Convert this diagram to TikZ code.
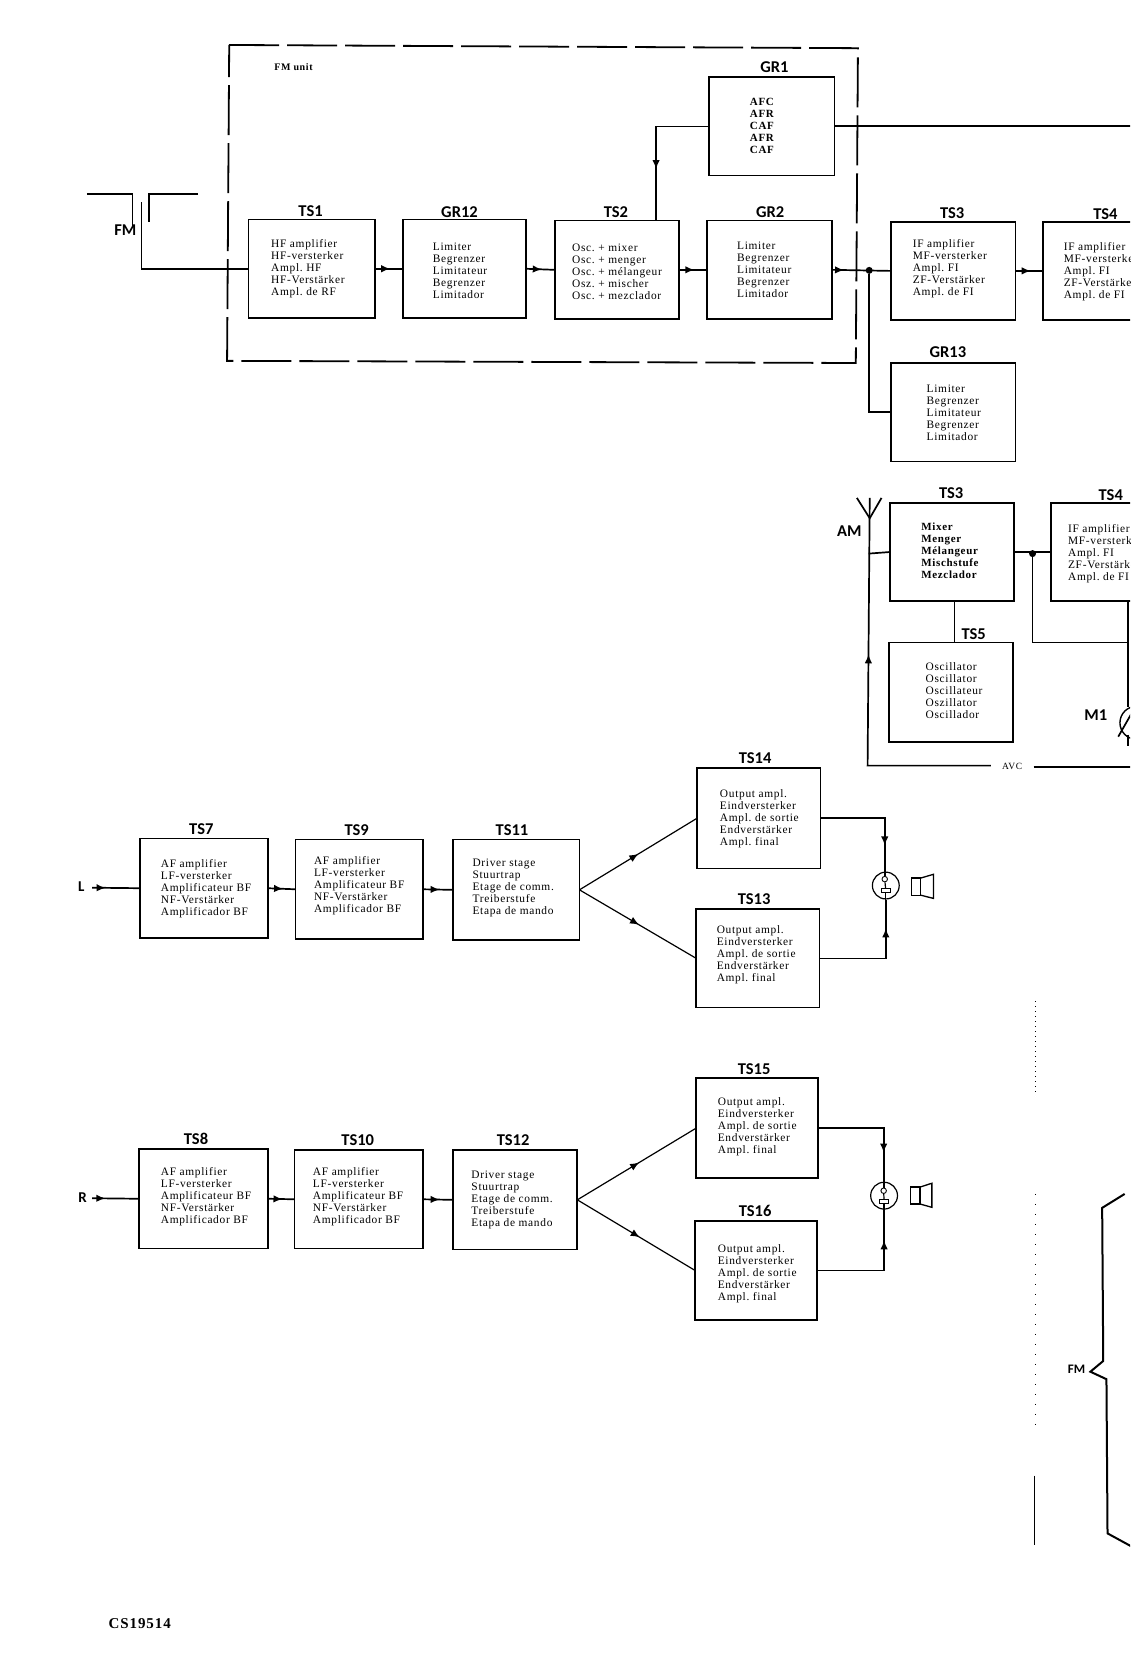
\documentclass[tikz,border=0pt]{standalone}
\usepackage{fontspec}
\usetikzlibrary{arrows.meta,decorations.markings}
\setmainfont{Liberation Serif}
\newfontfamily\bodyfam[LetterSpace=6]{Liberation Serif}
\newfontfamily\labfam{Carlito}
\tikzset{
  x=1.0711pt,y=-1.0708pt,
  wire/.style={line width=1.7pt},
  thin wire/.style={line width=1.2pt},
  unitbox/.style={draw,line width=1.7pt,fill=none,inner sep=0pt,outer sep=0pt},
  bodytext/.style={font=\bodyfam\fontsize{11.4}{12}\selectfont,align=left,anchor=west,inner sep=0pt,yshift=-1pt},
  boldtext/.style={font=\bodyfam\bfseries\fontsize{11}{12}\selectfont,align=left,anchor=west,inner sep=0pt,yshift=-1pt},
  unitlabel/.style={font=\labfam\bfseries\fontsize{16.5}{17}\selectfont,inner sep=0pt},
  smalllabel/.style={font=\labfam\bfseries\fontsize{15}{15}\selectfont,inner sep=0pt},
  junction/.style={circle,fill=black,inner sep=0pt,minimum size=7pt},
  midarrow/.style={postaction={decorate},decoration={markings,mark=at position #1 with {\arrow{Latex[length=9pt,width=7.5pt]}}}},
  midarrow/.default=0.55,
}
\newcommand{\bxunit}[8]{%
  \node[unitbox,minimum width={(#4-#2)*1.0711pt},minimum height={(#5-#3)*1.0708pt}] (#1) at ({(#2+#4)/2},{(#3+#5)/2}) {};
  \node[unitlabel] (#1-label) at (#7,#8) {#6};
}
\newcommand{\bxtext}[5]{\node[#4] (#1-text) at (#2,#3) {#5};}
\newcommand{\limtxt}{Limiter\\Begrenzer\\Limitateur\\Begrenzer\\Limitador}
\newcommand{\ifatxt}{IF amplifier\\MF-versterker\\Ampl.\ FI\\ZF-Verstärker\\Ampl.\ de FI}
\newcommand{\afatxt}{AF amplifier\\LF-versterker\\Amplificateur BF\\NF-Verstärker\\Amplificador BF}
\newcommand{\drvtxt}{Driver stage\\Stuurtrap\\Etage de comm.\\Treiberstufe\\Etapa de mando}
\newcommand{\outtxt}{Output ampl.\\Eindversterker\\Ampl.\ de sortie\\Endverstärker\\Ampl.\ final}
\begin{document}
\begin{tikzpicture}
\path[use as bounding box,clip] (0,0) rectangle (1055,1568);
% FM unit frame
\draw[line width=1.8pt,dash pattern=on 50pt off 8pt] (214,42) -- (801,45) -- (799,339) -- (212,337) -- cycle;
\node[font=\bodyfam\bfseries\fontsize{10}{10}\selectfont,inner sep=0pt] (fmunit) at (274,63) {FM unit};
% units
\bxunit{gr1}{662}{72}{779}{164}{GR1}{723}{63}
\bxtext{gr1}{700}{117}{boldtext}{AFC\\AFR\\CAF\\AFR\\CAF}
\bxunit{ts1}{232}{205}{350}{297}{TS1}{290}{197}
\bxtext{ts1}{253}{250}{bodytext}{HF amplifier\\HF-versterker\\Ampl.\ HF\\HF-Verstärker\\Ampl.\ de RF}
\bxunit{gr12}{376}{205}{491}{297}{GR12}{429}{198}
\bxtext{gr12}{404}{252}{bodytext}{\limtxt}
\bxunit{ts2}{518}{206}{634}{298}{TS2}{575}{198}
\bxtext{ts2}{534}{253}{bodytext}{Osc.\ + mixer\\Osc.\ + menger\\Osc.\ + mélangeur\\Osz.\ + mischer\\Osc.\ + mezclador}
\bxunit{gr2}{660}{206}{777}{298}{GR2}{719}{198}
\bxtext{gr2}{688}{251}{bodytext}{\limtxt}
\bxunit{ts3}{832}{207}{948}{299}{TS3}{889}{199}
\bxtext{ts3}{852}{250}{bodytext}{\ifatxt}
\bxunit{ts4}{974}{207}{1092}{299}{TS4}{1032}{200}
\bxtext{ts4}{993}{253}{bodytext}{\ifatxt}
\bxunit{gr13}{832}{339}{948}{431}{GR13}{885}{329}
\bxtext{gr13}{865}{385}{bodytext}{\limtxt}
\bxunit{ts3b}{831}{470}{947}{561}{TS3}{888}{461}
\bxtext{ts3b}{860}{513}{boldtext}{Mixer\\Menger\\Mélangeur\\Mischstufe\\Mezclador}
\bxunit{ts4b}{981}{470}{1098}{561}{TS4}{1037}{462}
\bxtext{ts4b}{997}{516}{bodytext}{\ifatxt}
\bxunit{ts5}{830}{600}{946}{693}{TS5}{909}{592}
\bxtext{ts5}{864}{644}{bodytext}{Oscillator\\Oscillator\\Oscillateur\\Oszillator\\Oscillador}
% left channel
\bxunit{ts7}{131}{783}{250}{876}{TS7}{188}{774}
\bxtext{ts7}{150}{829}{bodytext}{\afatxt}
\bxunit{ts9}{276}{784}{395}{877}{TS9}{333}{775}
\bxtext{ts9}{293}{826}{bodytext}{\afatxt}
\bxunit{ts11}{423}{784}{541}{878}{TS11}{478}{775}
\bxtext{ts11}{441}{828}{bodytext}{\drvtxt}
\bxunit{ts14}{651}{717}{766}{811}{TS14}{705}{708}
\bxtext{ts14}{672}{764}{bodytext}{\outtxt}
\bxunit{ts13}{650}{849}{765}{941}{TS13}{704}{840}
\bxtext{ts13}{669}{891}{bodytext}{\outtxt}
% right channel
\bxunit{ts8}{130}{1073}{250}{1166}{TS8}{183}{1064}
\bxtext{ts8}{150}{1117}{bodytext}{\afatxt}
\bxunit{ts10}{275}{1074}{395}{1166}{TS10}{334}{1065}
\bxtext{ts10}{292}{1117}{bodytext}{\afatxt}
\bxunit{ts12}{423}{1074}{539}{1167}{TS12}{479}{1065}
\bxtext{ts12}{440}{1120}{bodytext}{\drvtxt}
\bxunit{ts15}{650}{1007}{764}{1100}{TS15}{704}{998}
\bxtext{ts15}{670}{1051}{bodytext}{\outtxt}
\bxunit{ts16}{649}{1140}{763}{1233}{TS16}{705}{1131}
\bxtext{ts16}{670}{1189}{bodytext}{\outtxt}
% FM input
\node[unitlabel] (fmlab) at (117,215) {FM};
\coordinate (dipa) at (81,181);
\coordinate (dipb) at (124,181);
\coordinate (dipc) at (124,213);
\draw[wire] (dipa) -- (dipb);
\draw[line width=1pt] (dipb) -- (dipc);
\coordinate (dipd) at (185,181);
\coordinate (dipe) at (139,181);
\coordinate (dipf) at (139,207);
\draw[wire] (dipd) -- (dipe) -- (dipf);
\coordinate (dipg) at (132,189);
\draw[wire] (dipg) |- (ts1.west);
% FM chain
\draw[wire,midarrow] (ts1.east) -- (gr12.west);
\draw[wire,midarrow] (gr12.east) -- (ts2.west);
\draw[wire,midarrow] (ts2.east) -- (gr2.west);
\coordinate (afcfoot) at (612.5,206);
\draw[wire,midarrow=0.65] (gr1.west) -| (afcfoot);
\coordinate (afcout) at (1056,118);
\draw[line width=1.9pt] (gr1.east) -- (afcout);
\node[junction] (dot1) at (811.5,252.5) {};
\draw[wire,midarrow=0.2] (gr2.east) -- (ts3.west);
\draw[wire,midarrow=0.55] (ts3.east) -- (ts4.west);
\draw[wire] (dot1) |- (gr13.west);
% AM section
\node[unitlabel] (amlab) at (793,496) {AM};
\coordinate (anttop) at (812,465);
\coordinate (antroot) at (812,484);
\coordinate (antl) at (800,465);
\coordinate (antr) at (823,465);
\draw[wire] (antl) -- (antroot) -- (antr);
\coordinate (avcl) at (925,715);
\coordinate (avccorner) at (810,715);
\node[font=\bodyfam\fontsize{9.5}{9.5}\selectfont,inner sep=0pt] (avc) at (945,716) {AVC};
\coordinate (avcr) at (965,716);
\coordinate (avcend) at (1056,716);
\draw[wire,midarrow=0.6] (avcl) -- (avccorner) -- (anttop);
\draw[wire] (avcr) -- (avcend);
\coordinate (amjoin) at (811,517);
\draw[wire] (amjoin) -- (ts3b.west);
\coordinate (oscup) at (891,561);
\coordinate (oscdn) at (891,600);
\draw[wire] (oscup) -- (oscdn);
\node[junction] (dot2) at (964,517) {};
\draw[wire] (ts3b.east) -- (ts4b.west);
\coordinate (m1t) at (1053,561);
\coordinate (m1j) at (1053,600);
\coordinate (m1c) at (1053,660);
\draw[wire] (dot2) |- (m1j);
\draw[wire] (m1t) -- (m1c);
\node[unitlabel] (m1lab) at (1023,668) {M1};
\node[draw,circle,line width=1.4pt,minimum size=33pt,inner sep=0pt] (meter) at (1061,675) {};
\coordinate (ma) at (1044,688);
\coordinate (mb) at (1056,667);
\draw[wire] (ma) -- (mb);
\coordinate (mc) at (1053,686);
\coordinate (md) at (1053,697);
\draw[wire] (mc) -- (md);
% inputs
\node[smalllabel] (llab) at (76,828) {L};
\coordinate (lin) at (86,829);
\draw[wire,midarrow=0.28] (lin) -- (ts7.west);
\draw[wire,midarrow] (ts7.east) -- (ts9.west);
\draw[wire,midarrow] (ts9.east) -- (ts11.west);
\draw[thin wire,midarrow=0.5] (ts11.east) -- (ts14.west);
\draw[thin wire,midarrow=0.51] (ts11.east) -- (ts13.west);
\node[smalllabel] (rlab) at (77,1118) {R};
\coordinate (rin) at (86,1119);
\draw[wire,midarrow=0.28] (rin) -- (ts8.west);
\draw[wire,midarrow] (ts8.east) -- (ts10.west);
\draw[wire,midarrow] (ts10.east) -- (ts12.west);
\draw[thin wire,midarrow=0.52] (ts12.east) -- (ts15.west);
\draw[thin wire,midarrow=0.53] (ts12.east) -- (ts16.west);
% loudspeaker L
\node[draw,circle,line width=1.2pt,minimum size=26.8pt,inner sep=0pt] (spk1) at (827,827) {};
\node[draw,circle,line width=.9pt,minimum size=5.5pt,inner sep=0pt] (spk1c) at (826,821) {};
\node[draw,line width=.9pt,minimum width=9.5pt,minimum height=4pt,inner sep=0pt] (spk1r) at (827,832) {};
\draw[thin wire] (spk1c) -- (spk1r);
\draw[wire,midarrow=0.75] (ts14.east) -| (spk1c.north);
\draw[wire,midarrow=0.77] (ts13.east) -| (spk1.south);
\draw[thin wire] (spk1r.south) -- (spk1.south);
\draw[line width=1.3pt] (851,820) rectangle (859.6,836);
\draw[line width=1.3pt] (859.6,820) -- (871.5,816.5) -- (871.5,839) -- (859.6,836);
% loudspeaker R
\node[draw,circle,line width=1.2pt,minimum size=26.8pt,inner sep=0pt] (spk2) at (825.4,1116.6) {};
\node[draw,circle,line width=.9pt,minimum size=5.5pt,inner sep=0pt] (spk2c) at (825,1112) {};
\node[draw,line width=.9pt,minimum width=9.5pt,minimum height=4pt,inner sep=0pt] (spk2r) at (825.4,1122) {};
\draw[thin wire] (spk2c) -- (spk2r);
\draw[wire,midarrow=0.72] (ts15.east) -| (spk2c.north);
\draw[wire,midarrow=0.76] (ts16.east) -| (spk2.south);
\draw[thin wire] (spk2r.south) -- (spk2.south);
\draw[line width=1.3pt] (850,1108.6) rectangle (859,1124.4);
\draw[line width=1.3pt] (859,1108.6) -- (870,1105) -- (870,1127.5) -- (859,1124.4);
% FM brace, lower right
\node[font=\labfam\bfseries\fontsize{13}{13}\selectfont,inner sep=0pt] (fmb) at (1005,1279) {FM};
\coordinate (b1) at (1050,1115);
\coordinate (b2) at (1029,1128);
\coordinate (b3) at (1030,1271);
\coordinate (b4) at (1018,1281);
\coordinate (b5) at (1033,1288);
\coordinate (b6) at (1034,1432);
\coordinate (b7) at (1056,1444);
\draw[line width=2pt] (b1) -- (b2) -- (b3) -- (b4) -- (b5) -- (b6) -- (b7);
% scan fold line
\draw[line width=.7pt,dash pattern=on 1pt off 4pt] (967,935) -- (967,1022);
\draw[line width=.6pt,dash pattern=on 1pt off 9pt] (966.5,1115) -- (966.5,1334);
\draw[line width=1pt] (966,1378) -- (966,1443);
% drawing number
\node[font=\bodyfam\bfseries\fontsize{15}{15}\selectfont,inner sep=0pt] (csno) at (130.5,1516) {CS19514};
\end{tikzpicture}
\end{document}
